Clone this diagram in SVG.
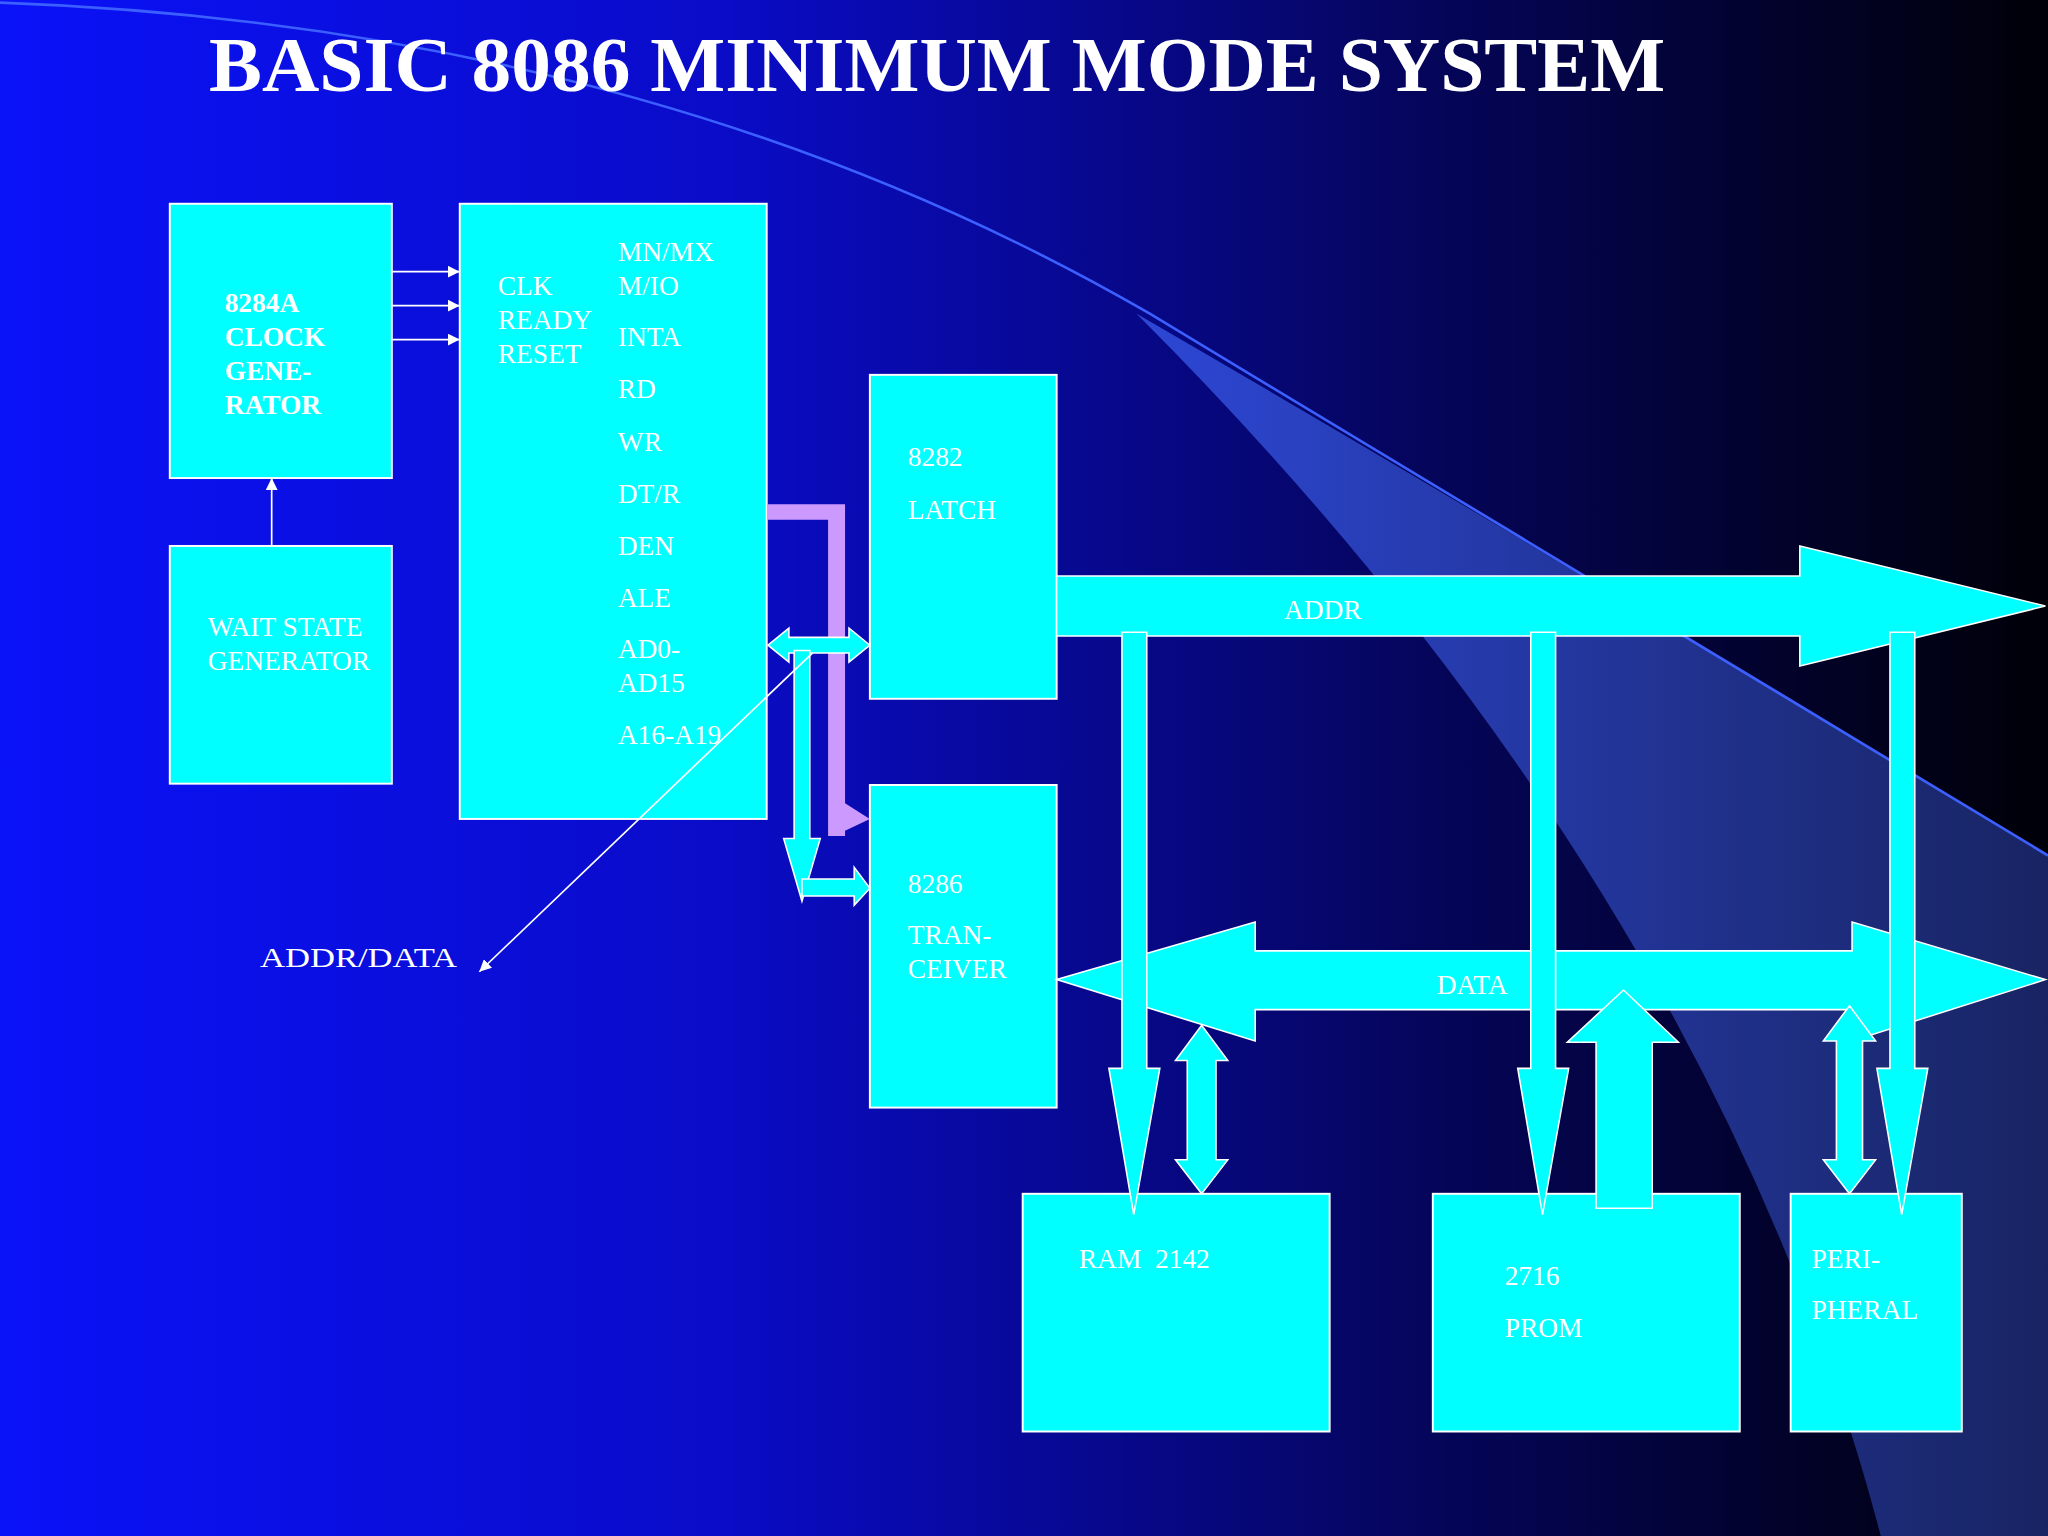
<svg xmlns="http://www.w3.org/2000/svg" width="2048" height="1536" viewBox="0 0 2048 1536">
<defs>
<linearGradient id="bg" x1="0" y1="0" x2="1" y2="0">
<stop offset="0" stop-color="#0a12f8"/><stop offset="0.35" stop-color="#0a0cc8"/><stop offset="0.7" stop-color="#05055a"/><stop offset="1" stop-color="#000008"/>
</linearGradient>
<linearGradient id="sw" x1="0" y1="0" x2="1" y2="0">
<stop offset="0" stop-color="#3a5cf0"/><stop offset="1" stop-color="#203080"/>
</linearGradient>
<marker id="ah" viewBox="0 0 10 10" refX="10" refY="5" markerWidth="7" markerHeight="7" orient="auto"><path d="M0,0 L10,5 L0,10 z" fill="#fff"/></marker>
<style>
.box{fill:#00ffff;stroke:#ffffff;stroke-width:1.5}
.t{font-family:"Liberation Serif",serif;font-size:21px;fill:#ffffff}
.b{font-weight:bold}
.ar{fill:#00ffff;stroke:#ffffff;stroke-width:1.2}
.ln{stroke:#fff;stroke-width:1.3;fill:none}
</style>
</defs>
<g transform="scale(1.30612)">
<rect width="1568" height="1176" fill="url(#bg)"/>
<path d="M870 240 Q1180 420 1568 655 L1568 1176 L1440 1176 Q1310 680 870 240 Z" fill="url(#sw)" opacity="0.75"/>
<path d="M0 2 Q500 20 880 240 Q1180 420 1568 655" stroke="#3c60ff" stroke-width="2" fill="none"/>
<text x="160" y="70" font-family="Liberation Serif,serif" font-size="60" font-weight="bold" fill="#fff" textLength="1115" lengthAdjust="spacingAndGlyphs">BASIC 8086 MINIMUM MODE SYSTEM</text>

<g id="clk"><rect class="box" x="130" y="156" width="170" height="210"/>
<text class="t b" x="172" y="239">8284A</text><text class="t b" x="172" y="265">CLOCK</text><text class="t b" x="172" y="291">GENE-</text><text class="t b" x="172" y="317">RATOR</text></g>
<g id="wait"><rect class="box" x="130" y="418" width="170" height="182"/>
<text class="t" x="159" y="487">WAIT STATE</text><text class="t" x="159" y="513">GENERATOR</text></g>
<g id="cpu"><rect class="box" x="352" y="156" width="235" height="471"/>
<text class="t" x="381" y="226">CLK</text><text class="t" x="381" y="252">READY</text><text class="t" x="381" y="278">RESET</text>
<text class="t" x="473" y="200">MN/MX</text><text class="t" x="473" y="226">M/IO</text><text class="t" x="473" y="265">INTA</text><text class="t" x="473" y="305">RD</text><text class="t" x="473" y="345">WR</text><text class="t" x="473" y="385">DT/R</text><text class="t" x="473" y="425">DEN</text><text class="t" x="473" y="465">ALE</text><text class="t" x="473" y="504">AD0-</text><text class="t" x="473" y="530">AD15</text><text class="t" x="473" y="570">A16-A19</text></g>
<g id="latch"><rect class="box" x="666" y="287" width="143" height="248"/>
<text class="t" x="695" y="357">8282</text><text class="t" x="695" y="397">LATCH</text></g>
<g id="xcvr"><rect class="box" x="666" y="601" width="143" height="247"/>
<text class="t" x="695" y="684">8286</text><text class="t" x="695" y="723">TRAN-</text><text class="t" x="695" y="749">CEIVER</text></g>
<g id="ram"><rect class="box" x="783" y="914" width="235" height="182"/><text class="t" x="826" y="971" xml:space="preserve">RAM  2142</text></g>
<g id="prom"><rect class="box" x="1097" y="914" width="235" height="182"/><text class="t" x="1152" y="984">2716</text><text class="t" x="1152" y="1024">PROM</text></g>
<g id="peri"><rect class="box" x="1371" y="914" width="131" height="182"/><text class="t" x="1387" y="971">PERI-</text><text class="t" x="1387" y="1010">PHERAL</text></g>

<g id="connectors">
<line class="ln" x1="300" y1="208" x2="352" y2="208" marker-end="url(#ah)"/>
<line class="ln" x1="300" y1="234" x2="352" y2="234" marker-end="url(#ah)"/>
<line class="ln" x1="300" y1="260" x2="352" y2="260" marker-end="url(#ah)"/>
<line class="ln" x1="208" y1="418" x2="208" y2="366" marker-end="url(#ah)"/>
<path d="M588 386 L647 386 L647 615 L666 627 L647 636 L647 640 L634 640 L634 398 L588 398 Z" fill="#cc99ff"/>
<path class="ar" d="M588 494 L604 481 L604 488 L650 488 L650 481 L666 494 L650 507 L650 500 L604 500 L604 507 Z"/>
<path class="ar" d="M608 498 L620 498 L620 642 L628 642 L614 690 L600 642 L608 642 Z"/>
<path class="ar" d="M614 673 L654 673 L654 664 L666 680 L654 693 L654 686 L614 686 Z"/>
<path class="ar" d="M809 441 L1378 441 L1378 418 L1566 464 L1378 510 L1378 487 L809 487 Z"/>
<text class="t" x="983" y="474">ADDR</text>
<path class="ar" d="M809 750 L961 706 L961 728 L1418 728 L1418 706 L1566 750 L1418 797 L1418 773 L961 773 L961 797 Z"/>
<text class="t" x="1100" y="761">DATA</text>
<path class="ar" d="M859 484 L878 484 L878 818 L888 818 L868 930 L849 818 L859 818 Z"/>
<path class="ar" d="M1172 484 L1191 484 L1191 818 L1201 818 L1181 930 L1162 818 L1172 818 Z"/>
<path class="ar" d="M1447 484 L1466 484 L1466 818 L1476 818 L1456 930 L1437 818 L1447 818 Z"/>
<path class="ar" d="M920 785 L940 812 L931 812 L931 888 L940 888 L920 914 L900 888 L909 888 L909 812 L900 812 Z"/>
<path class="ar" d="M1243 758 L1285 798 L1265 798 L1265 925 L1222 925 L1222 798 L1200 798 Z"/>
<path class="ar" d="M1416 770 L1436 797 L1426 797 L1426 888 L1436 888 L1416 914 L1396 888 L1406 888 L1406 797 L1396 797 Z"/>
<line class="ln" x1="622" y1="500" x2="367" y2="744" marker-end="url(#ah)"/>
</g>
<text class="t" x="199" y="740" font-size="25" textLength="151" lengthAdjust="spacingAndGlyphs">ADDR/DATA</text>
</g>
</svg>
